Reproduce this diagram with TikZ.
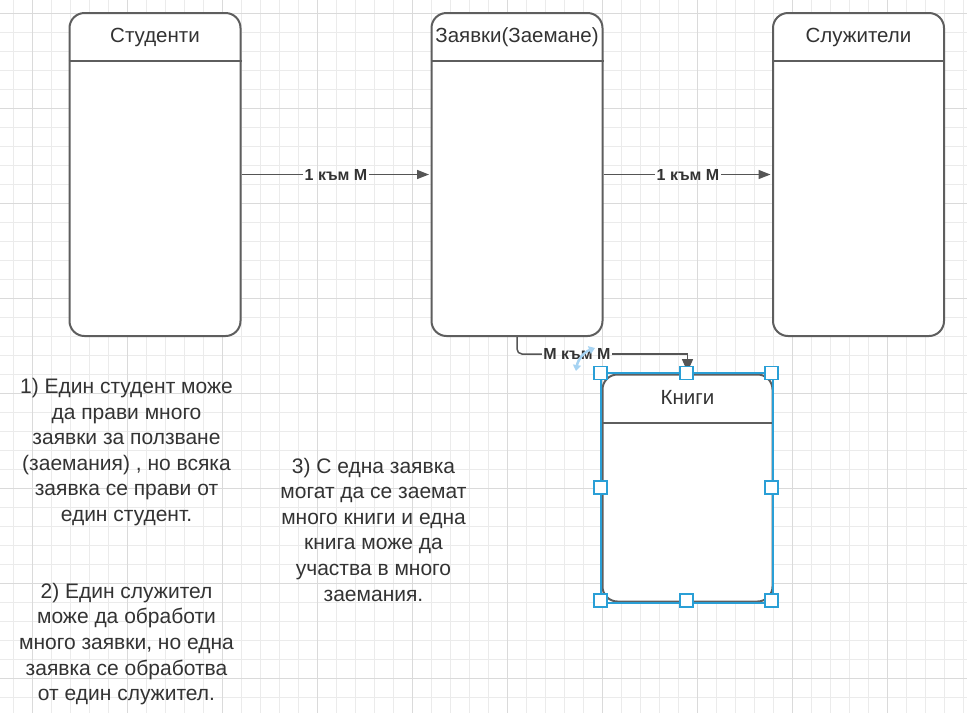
\documentclass[tikz,border=0pt]{standalone}
\usepackage{fontspec}
\setmainfont{Liberation Sans}
\usetikzlibrary{arrows.meta}
\definecolor{gridminor}{HTML}{EBEBEB}
\definecolor{gridmajor}{HTML}{DADADA}
\definecolor{boxline}{HTML}{5E5E5E}
\definecolor{txt}{HTML}{333333}
\definecolor{conncol}{HTML}{555555}
\definecolor{selblue}{HTML}{2A9FD6}
\definecolor{rotblue}{HTML}{A6D3F2}
\tikzset{
  entity/.style={draw=boxline, line width=2pt, fill=white, rounded corners=15pt,
    minimum width=171pt, minimum height=323pt, inner sep=0pt},
  hdr/.style={text=txt, font=\fontsize{20.5}{24}\selectfont, inner sep=0pt, anchor=base},
  note/.style={text=txt, align=center, font=\fontsize{21}{25.6}\selectfont, inner sep=0pt},
  lbl/.style={text=txt, font=\bfseries\fontsize{16}{18}\selectfont, inner sep=1.5pt},
  conn/.style={draw=conncol, line width=1.5pt},
  tip/.style={-{Triangle[length=12pt,width=9pt]}, shorten >=1.5pt},
  handle/.style={draw=selblue, fill=white, line width=1.5pt, minimum size=13pt, inner sep=0pt}
}
\begin{document}
\begin{tikzpicture}[x=1pt,y=-1pt]
\useasboundingbox (0,0) rectangle (967,713);
\fill[white] (0,0) rectangle (967,713);
\begin{scope}
\clip (0,0) rectangle (967,713);
\foreach \i in {0,...,50} \draw[gridminor, line width=1pt] ({13.3+19*\i},0) -- ({13.3+19*\i},713);
\foreach \i in {0,...,37} \draw[gridminor, line width=1pt] (0,{13.3+19*\i}) -- (967,{13.3+19*\i});
\foreach \i in {0,...,9} \draw[gridmajor, line width=1pt] ({32.3+95*\i},0) -- ({32.3+95*\i},713);
\foreach \i in {0,...,7} \draw[gridmajor, line width=1pt] (0,{13.3+95*\i}) -- (967,{13.3+95*\i});
\end{scope}

% entities
\node[entity] (stu) at (155,174.5) {};
\node[entity] (zay) at (517,174.5) {};
\node[entity] (slu) at (858.5,174.5) {};
\node[entity, minimum width=170pt, minimum height=227pt] (kni) at (687.5,488) {};
\foreach \n in {stu,zay,slu,kni}
  \draw[boxline, line width=2pt] ([yshift=-49pt]\n.north west) -- ([yshift=-49pt]\n.north east);
\node[hdr] (stuh) at (155,42.5) {Студенти};
\node[hdr] (zayh) at (517,42.5) {Заявки(Заемане)};
\node[hdr] (sluh) at (858.5,42.5) {Служители};
\node[hdr] (knih) at (687.5,404.3) {Книги};

% connectors
\node[lbl] (l1) at (336,174.5) {1 към М};
\draw[conn] (stu.east) -- (l1.west);
\draw[conn, tip] (l1.east) -- (zay.west);
\node[lbl] (l2) at (688,174.5) {1 към М};
\draw[conn] (zay.east) -- (l2.west);
\draw[conn, tip] (l2.east) -- (slu.west);
\node[lbl] (l3) at (577,354) {М към М};
\draw[conn, rounded corners=5pt] (zay.south) |- (l3.west);
\draw[conn, -{Triangle[length=13pt,width=11pt]}, shorten >=1.5pt] (l3.east) -| (kni.north);

% selection outline and handles
\draw[selblue, line width=1.5pt] ([shift={(-0.5pt,0.5pt)}]kni.north west) rectangle ([shift={(-0.5pt,-0.5pt)}]kni.south east);
\foreach \a/\p in {a/{(600.5,373)},b/{(686.5,373)},c/{(771.5,373)},d/{(600.5,487.5)},e/{(771.5,487.5)},f/{(600.5,600.5)},g/{(686.5,600.5)},h/{(771.5,600.5)}}
  \node[handle] (hd\a) at \p {};
\draw[rotblue, line width=2.5pt, {Triangle[length=6pt,width=8pt]}-{Triangle[length=6pt,width=8pt]}] (576,371) to[bend left=30] (595,348);

% notes
\node[note] (t1) at (126.5,452) {1) Един студент може\\да прави много\\заявки за ползване\\(заемания) , но всяка\\заявка се прави от\\един студент.};
\node[note] (t2) at (126.5,644) {2) Един служител\\може да обработи\\много заявки, но една\\заявка се обработва\\от един служител.};
\node[note] (t3) at (373.5,529.5) {3) С една заявка\\могат да се заемат\\много книги и една\\книга може да\\участва в много\\заемания.};
\end{tikzpicture}
\end{document}
